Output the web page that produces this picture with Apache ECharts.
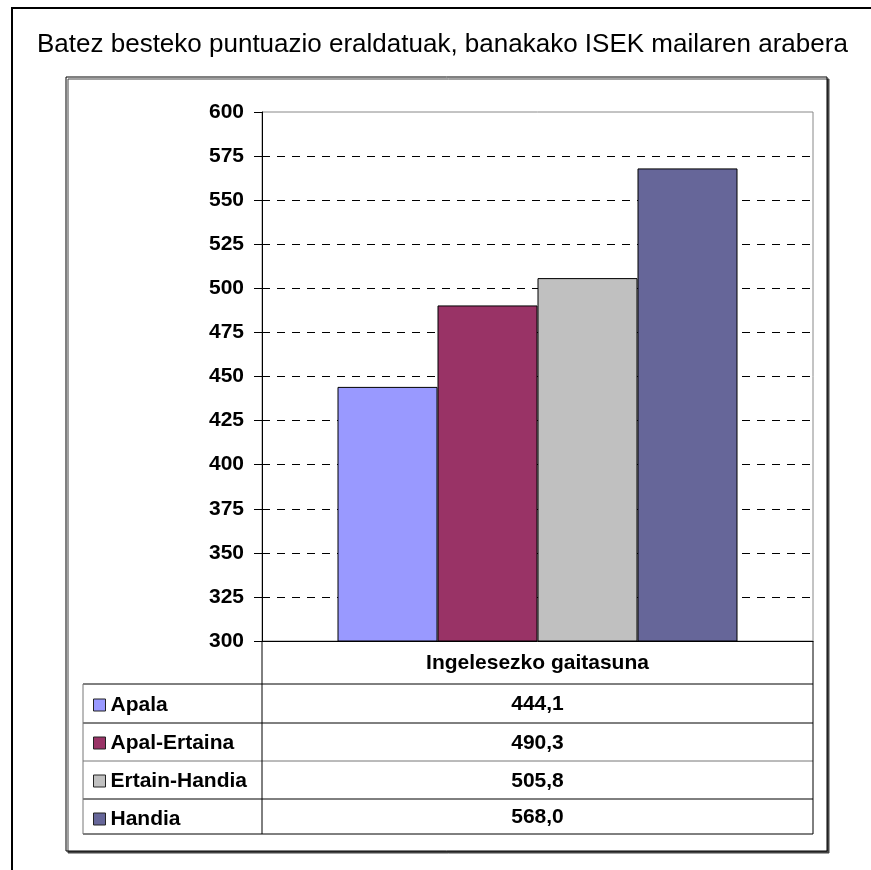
<!DOCTYPE html>
<html>
<head>
<meta charset="utf-8">
<script src="https://cdn.jsdelivr.net/npm/echarts@6/dist/echarts.min.js"></script>
<style>
  html, body { margin: 0; padding: 0; background: #fff; }
  #chart { width: 871px; height: 870px; }
</style>
</head>
<body>
<div id="chart"></div>
<script>
const categories = ['Ingelesezko gaitasuna'];
const seriesNames = ['Apala', 'Apal-Ertaina', 'Ertain-Handia', 'Handia'];
const seriesValues = [444.1, 490.3, 505.8, 568.0];
const seriesColors = ['#9999FF', '#993366', '#C0C0C0', '#666699'];
const yMin = 300;
const yMax = 600;
const yStep = 25;

// layout
const W = 871, H = 870;
const plotLeft = 262, plotRight = 813, plotTop = 112, plotBottom = 641;
const tableLeft = 83;
const rowLines = [684, 723, 761, 799, 834];
const font = '"Liberation Sans", Arial, sans-serif';
const labelSize = 21;

const fmt = v => v.toFixed(1).replace('.', ',');

const series = seriesNames.map((name, i) => ({
    name: name,
    type: 'bar',
    xAxisIndex: 0,
    barWidth: 100,
    barGap: '0%',
    data: [seriesValues[i]],
    itemStyle: { color: seriesColors[i], borderColor: '#000', borderWidth: 1 }
}));

const xAxes = [{
    type: 'category',
    data: categories,
    axisLine: { show: true, lineStyle: { color: '#000', width: 1 } },
    axisTick: { show: false },
    axisLabel: {
        margin: (rowLines[0] - plotBottom) / 2 + 1, verticalAlign: 'middle',
        fontFamily: font, fontWeight: 'bold', fontSize: labelSize, color: '#000'
    }
}];
// one axis row per series, used as the data table
seriesNames.forEach((name, i) => {
    const center = (rowLines[i] + rowLines[i + 1]) / 2;
    xAxes.push({
        type: 'category',
        position: 'bottom',
        offset: center - plotBottom + 1,
        data: [fmt(seriesValues[i])],
        axisLine: { show: false },
        axisTick: { show: false },
        axisLabel: {
            margin: 0, verticalAlign: 'middle',
            fontFamily: font, fontWeight: 'bold', fontSize: labelSize, color: '#000'
        }
    });
});

const tableLines = [];
rowLines.forEach((y, i) => tableLines.push([tableLeft, y, plotRight, y, i === 2 ? '#777' : '#000']));
tableLines.push([tableLeft, rowLines[0], tableLeft, rowLines[4], '#777']);
tableLines.push([plotLeft, plotBottom, plotLeft, rowLines[4], '#000']);
tableLines.push([plotRight, plotBottom, plotRight, rowLines[4], '#000']);

const graphics = [
    {
        type: 'rect', z: -10, silent: true,
        shape: { x: 12, y: 8, width: 900, height: 900 },
        style: { fill: '#fff', stroke: '#000', lineWidth: 2 }
    },
    {
        type: 'rect', z: -9, silent: true,
        shape: { x: 66, y: 77, width: 827 - 66, height: 851 - 77 },
        style: {
            fill: '#fff', stroke: '#000', lineWidth: 1,
            shadowColor: '#444', shadowOffsetX: 2, shadowOffsetY: 2, shadowBlur: 0
        }
    }
].concat(tableLines.map(l => ({
    type: 'line', z: 5, silent: true,
    shape: { x1: l[0], y1: l[1], x2: l[2], y2: l[3] },
    style: { stroke: l[4], lineWidth: 1 }
})));

const chart = echarts.init(document.getElementById('chart'), null, { renderer: 'canvas' });
chart.setOption({
    animation: false,
    backgroundColor: '#fff',
    title: {
        text: 'Batez besteko puntuazio eraldatuak, banakako ISEK mailaren arabera',
        left: 32, top: 27,
        textStyle: { fontFamily: font, fontWeight: 'normal', fontSize: 26, color: '#000' }
    },
    legend: {
        orient: 'vertical',
        left: tableLeft + 5,
        top: rowLines[0] + 5,
        itemWidth: 12, itemHeight: 12,
        itemGap: 16,
        icon: 'rect',
        itemStyle: { borderColor: '#222', borderWidth: 1 },
        textStyle: { fontFamily: font, fontWeight: 'bold', fontSize: labelSize, color: '#000', lineHeight: 22 },
        data: seriesNames
    },
    grid: {
        left: plotLeft, right: W - plotRight, top: plotTop, bottom: H - plotBottom,
        show: true, borderColor: '#888', borderWidth: 1, backgroundColor: 'transparent'
    },
    xAxis: xAxes,
    yAxis: {
        type: 'value',
        min: yMin, max: yMax, interval: yStep,
        axisLine: { show: true, lineStyle: { color: '#000', width: 1 } },
        axisTick: { show: true, inside: false, length: 8, lineStyle: { color: '#000' } },
        axisLabel: { margin: 18, fontFamily: font, fontWeight: 'bold', fontSize: labelSize, color: '#000' },
        splitLine: {
            show: true, showMinLine: false, showMaxLine: false,
            lineStyle: { color: '#000', type: [8, 7], width: 1 }
        }
    },
    series: series,
    graphic: graphics
});
</script>
</body>
</html>
